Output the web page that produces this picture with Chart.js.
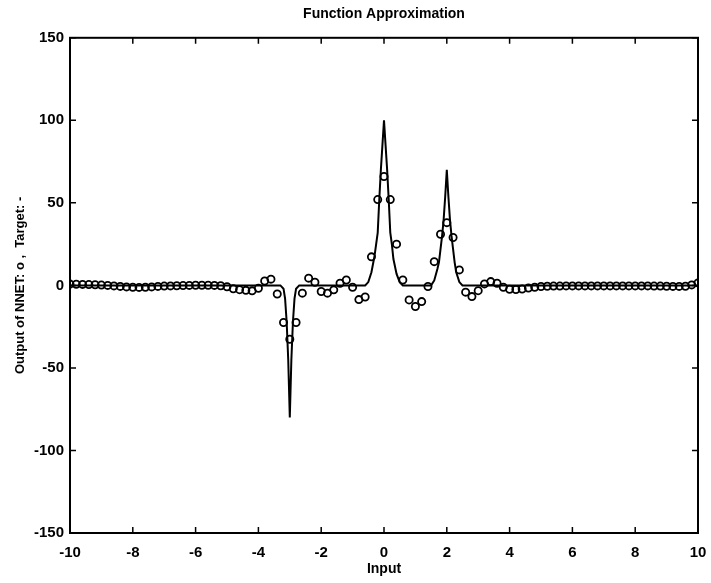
<!DOCTYPE html>
<html>
<head>
<meta charset="utf-8">
<script src="https://cdn.jsdelivr.net/npm/chart.js@4.4.1/dist/chart.umd.min.js"></script>
<style>
  html, body { margin: 0; padding: 0; background: #fff; }
  #wrap { width: 711px; height: 583px; }
</style>
</head>
<body>
<div id="wrap"><canvas id="myChart" width="711" height="583"></canvas></div>
<script>
// Network output (circles), sampled every 0.2 from -10 to 10
const netX = [
  -10, -9.8, -9.6, -9.4, -9.2, -9, -8.8, -8.6, -8.4, -8.2,
  -8, -7.8, -7.6, -7.4, -7.2, -7, -6.8, -6.6, -6.4, -6.2,
  -6, -5.8, -5.6, -5.4, -5.2, -5, -4.8, -4.6, -4.4, -4.2,
  -4, -3.8, -3.6, -3.4, -3.2, -3, -2.8, -2.6, -2.4, -2.2,
  -2, -1.8, -1.6, -1.4, -1.2, -1, -0.8, -0.6, -0.4, -0.2,
  0, 0.2, 0.4, 0.6, 0.8, 1, 1.2, 1.4, 1.6, 1.8,
  2, 2.2, 2.4, 2.6, 2.8, 3, 3.2, 3.4, 3.6, 3.8,
  4, 4.2, 4.4, 4.6, 4.8, 5, 5.2, 5.4, 5.6, 5.8,
  6, 6.2, 6.4, 6.6, 6.8, 7, 7.2, 7.4, 7.6, 7.8,
  8, 8.2, 8.4, 8.6, 8.8, 9, 9.2, 9.4, 9.6, 9.8,
  10
];
const netY = [
  0.8, 0.7, 0.6, 0.5, 0.4, 0.2, 0, -0.3, -0.6, -0.9,
  -1.1, -1.2, -1.1, -0.9, -0.6, -0.4, -0.3, -0.2, -0.1, 0,
  0.1, 0.1, 0.1, 0, -0.2, -0.8, -2.0, -2.6, -3.0, -3.3,
  -1.7, 2.7, 3.8, -5.2, -22.5, -32.6, -22.5, -4.7, 4.4, 1.9,
  -3.7, -4.7, -2.7, 1.3, 3.3, -1.1, -8.6, -7.0, 17.3, 52,
  66, 52, 25, 3.3, -8.8, -12.8, -9.8, -0.7, 14.4, 31,
  38, 29, 9.4, -4.1, -6.8, -3.2, 0.9, 2.3, 1.3, -1.1,
  -2.3, -2.5, -2.2, -1.6, -1.1, -0.7, -0.5, -0.4, -0.4, -0.3,
  -0.3, -0.3, -0.3, -0.3, -0.3, -0.3, -0.3, -0.3, -0.3, -0.3,
  -0.3, -0.3, -0.3, -0.4, -0.4, -0.5, -0.6, -0.6, -0.5, 0.3,
  1.5
];

// Target function (solid line)
const targetX = [
  -10, -3.3, -3.2, -3.15, -3.1, -3.05, -3, -2.95, -2.9, -2.85, -2.8, -2.7,
  -0.6, -0.5, -0.4, -0.35, -0.3, -0.2, -0.15, -0.1, -0.05, 0,
  0.05, 0.1, 0.15, 0.2, 0.25, 0.3, 0.4, 0.5, 0.6,
  1.5, 1.6, 1.7, 1.75, 1.8, 1.85, 1.9, 1.95, 2, 2.05, 2.1, 2.15, 2.2, 2.25, 2.3, 2.4, 2.5,
  10
];
const targetY = [
  0, 0, -2, -8, -22, -45, -80, -45, -22, -8, -2, 0,
  0, 2, 8, 13, 18, 32, 52, 70, 85, 100,
  85, 70, 52, 32, 25, 16, 7, 2, 0,
  0, 3, 10, 14, 22, 30, 40, 54, 70, 54, 40, 30, 22, 14, 8, 2, 0,
  0
];

const xTicks = [-10, -8, -6, -4, -2, 0, 2, 4, 6, 8, 10];
const yTicks = [-150, -100, -50, 0, 50, 100, 150];

const toPoints = (xs, ys) => xs.map((x, i) => ({ x: x, y: ys[i] }));

// MATLAB style box with inward ticks on all four sides
const matlabAxes = {
  id: 'matlabAxes',
  afterDraw(chart) {
    const { ctx, chartArea: a, scales: { x, y } } = chart;
    ctx.save();
    ctx.strokeStyle = '#000';
    ctx.lineWidth = 1.5;
    ctx.beginPath();
    x.ticks.forEach(t => {
      const px = x.getPixelForValue(t.value);
      ctx.moveTo(px, a.bottom); ctx.lineTo(px, a.bottom - 6);
      ctx.moveTo(px, a.top); ctx.lineTo(px, a.top + 6);
    });
    y.ticks.forEach(t => {
      const py = y.getPixelForValue(t.value);
      ctx.moveTo(a.left, py); ctx.lineTo(a.left + 6, py);
      ctx.moveTo(a.right, py); ctx.lineTo(a.right - 6, py);
    });
    ctx.stroke();
    ctx.lineWidth = 2;
    ctx.strokeRect(a.left, a.top, a.right - a.left, a.bottom - a.top);
    ctx.restore();
  }
};

const tickFont = { family: 'Liberation Sans, Arial, sans-serif', size: 15, weight: 'bold' };

const data = {
  datasets: [{
    type: 'line',
    label: 'Target',
    data: toPoints(targetX, targetY),
    borderColor: '#000',
    borderWidth: 2,
    pointRadius: 0,
    tension: 0,
    fill: false
  }, {
    type: 'scatter',
    label: 'NNET',
    data: toPoints(netX, netY),
    pointStyle: 'circle',
    pointRadius: 3.6,
    borderWidth: 1.8,
    borderColor: '#000',
    backgroundColor: 'rgba(0,0,0,0)'
  }]
};

const config = {
  type: 'scatter',
  data,
  options: {
    responsive: false,
    animation: false,
    layout: { padding: { left: 0, right: 13, top: 0, bottom: 0 } },
    plugins: {
      legend: { display: false },
      tooltip: { enabled: false },
      title: {
        display: true,
        text: 'Function Approximation',
        fullSize: false,
        color: '#000',
        font: { family: 'Liberation Sans, Arial, sans-serif', size: 14, weight: 'bold' },
        padding: { top: 6, bottom: 15 }
      }
    },
    scales: {
      x: {
        type: 'linear',
        min: -10,
        max: 10,
        afterFit: s => { s.height = 50; s.paddingLeft = 0; s.paddingRight = 0; },
        afterBuildTicks: s => { s.ticks = xTicks.map(v => ({ value: v })); },
        grid: { display: false, drawTicks: false },
        border: { display: false },
        ticks: { color: '#000', font: tickFont, padding: 11, maxRotation: 0 },
        title: {
          display: true,
          text: 'Input',
          color: '#000',
          font: { family: 'Liberation Sans, Arial, sans-serif', size: 14, weight: 'bold' },
          padding: { top: 0, bottom: 5 }
        }
      },
      y: {
        type: 'linear',
        min: -150,
        max: 150,
        afterFit: s => { s.width = 70; s.paddingTop = 0; s.paddingBottom = 0; },
        afterBuildTicks: s => { s.ticks = yTicks.map(v => ({ value: v })); },
        grid: { display: false, drawTicks: false },
        border: { display: false },
        ticks: { color: '#000', font: tickFont, padding: 6 },
        title: {
          display: true,
          text: 'Output of NNET: o ,  Target: -',
          color: '#000',
          font: { family: 'Liberation Sans, Arial, sans-serif', size: 13, weight: 'bold' },
          padding: { top: 13, bottom: 0 }
        }
      }
    }
  },
  plugins: [matlabAxes]
};

const myChart = new Chart(document.getElementById('myChart'), config);
</script>
</body>
</html>
